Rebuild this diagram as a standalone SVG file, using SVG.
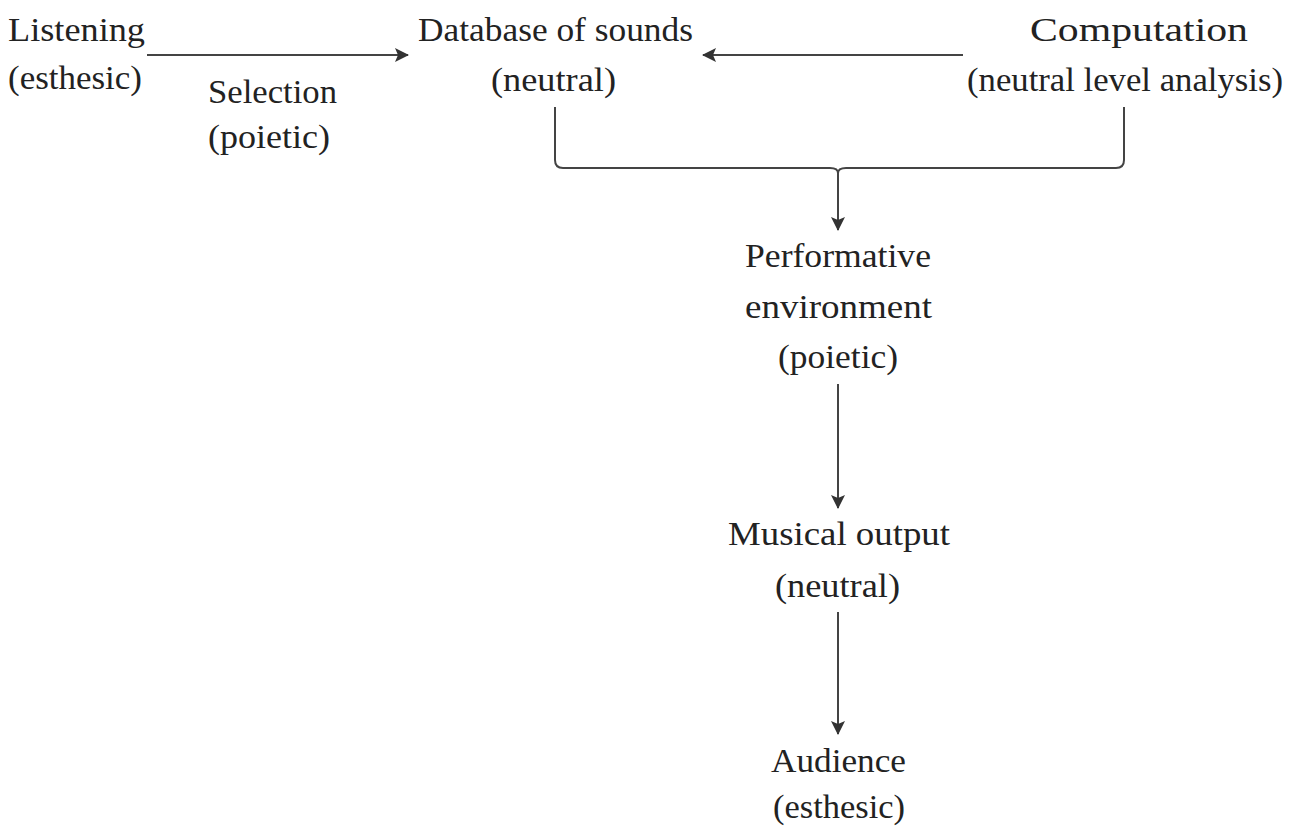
<svg xmlns="http://www.w3.org/2000/svg" width="1293" height="830" viewBox="0 0 1293 830">
<defs>
<style>
text{font-family:"Liberation Serif","DejaVu Serif",serif;font-size:34px;fill:#222}
.ln{stroke:#444;stroke-width:2;fill:none}
</style>
<marker id="ah" markerUnits="userSpaceOnUse" markerWidth="16" markerHeight="16" viewBox="0 0 16 16" refX="14" refY="8" orient="auto">
<path d="M1,1 L15,8 L1,15 L4,8 Z" fill="#333"/>
</marker>
</defs>
<rect width="1293" height="830" fill="#fff"/>
<g id="connectors">
<line class="ln" x1="147" y1="55" x2="408" y2="55" marker-end="url(#ah)"/>
<line class="ln" x1="963" y1="55" x2="703" y2="55" marker-end="url(#ah)"/>
<path class="ln" d="M555,107 V160 Q555,168 563,168 H830 Q838,168 838,173 Q838,168 846,168 H1116 Q1124,168 1124,160 V107"/>
<line class="ln" x1="838" y1="172" x2="838" y2="230" marker-end="url(#ah)"/>
<line class="ln" x1="838" y1="384" x2="838" y2="508" marker-end="url(#ah)"/>
<line class="ln" x1="838" y1="612" x2="838" y2="734" marker-end="url(#ah)"/>
</g>
<g id="listening">
<text x="8" y="41" textLength="137" lengthAdjust="spacingAndGlyphs">Listening</text>
<text x="8" y="89" textLength="134" lengthAdjust="spacingAndGlyphs">(esthesic)</text>
</g>
<g id="selection">
<text x="208" y="103" textLength="129" lengthAdjust="spacingAndGlyphs">Selection</text>
<text x="208" y="148" textLength="122" lengthAdjust="spacingAndGlyphs">(poietic)</text>
</g>
<g id="database">
<text x="418" y="41" textLength="275" lengthAdjust="spacingAndGlyphs">Database of sounds</text>
<text x="491" y="91" textLength="125" lengthAdjust="spacingAndGlyphs">(neutral)</text>
</g>
<g id="computation">
<text x="1030" y="41" textLength="218" lengthAdjust="spacingAndGlyphs">Computation</text>
<text x="967" y="91" textLength="316" lengthAdjust="spacingAndGlyphs">(neutral level analysis)</text>
</g>
<g id="performative">
<text x="745" y="267" textLength="186" lengthAdjust="spacingAndGlyphs">Performative</text>
<text x="745" y="318" textLength="187" lengthAdjust="spacingAndGlyphs">environment</text>
<text x="778" y="368" textLength="120" lengthAdjust="spacingAndGlyphs">(poietic)</text>
</g>
<g id="musical-output">
<text x="728" y="545" textLength="222" lengthAdjust="spacingAndGlyphs">Musical output</text>
<text x="775" y="597" textLength="125" lengthAdjust="spacingAndGlyphs">(neutral)</text>
</g>
<g id="audience">
<text x="771" y="772" textLength="135" lengthAdjust="spacingAndGlyphs">Audience</text>
<text x="773" y="818" textLength="132" lengthAdjust="spacingAndGlyphs">(esthesic)</text>
</g>
</svg>
